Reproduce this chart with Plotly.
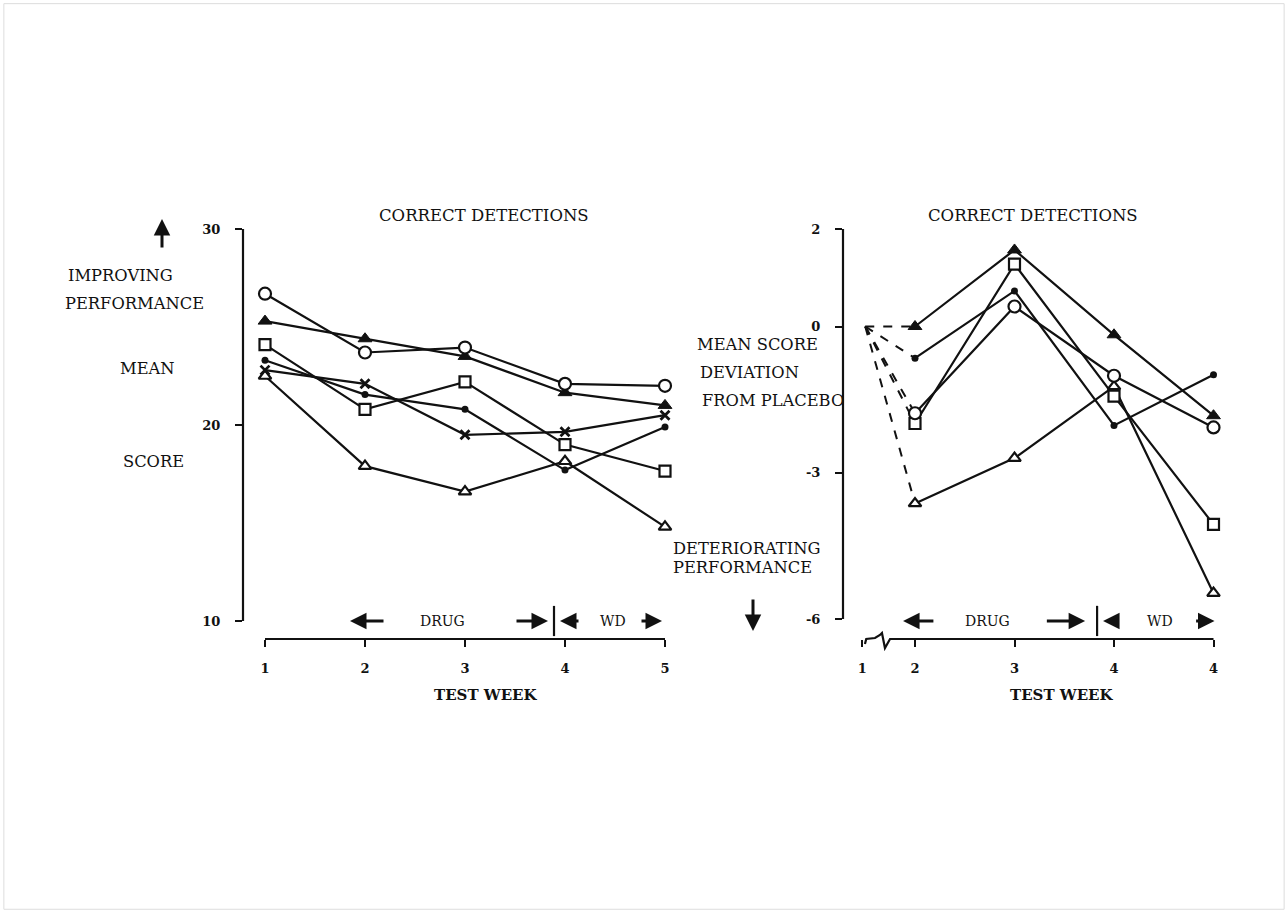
import plotly.graph_objects as go

# ---------------- data: left panel (mean score) ----------------
WEEKS_L = [1, 2, 3, 4, 5]
TICKTEXT_L = ["1", "2", "3", "4", "5"]
L_OPEN_CIRCLE = [26.7, 23.7, 23.95, 22.1, 22.0]
L_FILLED_TRI = [25.3, 24.4, 23.5, 21.65, 21.0]
L_OPEN_SQUARE = [24.1, 20.8, 22.2, 19.0, 17.65]
L_DOT = [23.3, 21.55, 20.8, 17.7, 19.9]
L_X = [22.8, 22.1, 19.5, 19.65, 20.5]
L_OPEN_TRI = [22.5, 17.9, 16.6, 18.15, 14.8]
YTICKS_L = [10, 20, 30]

# ---------------- data: right panel (deviation from placebo) ----------------
START_R = 1.5          # broken-axis start (week 1, placebo baseline)
START_VAL_R = 0.0
WEEKS_R = [2, 3, 4, 5]
TICKVALS_R = [1.47, 2, 3, 4, 5]
TICKTEXT_R = ["1", "2", "3", "4", "4"]
R_FILLED_TRI = [0.0, 1.57, -0.17, -1.83]
R_DOT = [-0.65, 0.73, -2.03, -0.99]
R_OPEN_CIRCLE = [-1.78, 0.41, -1.01, -2.07]
R_OPEN_SQUARE = [-1.99, 1.28, -1.43, -4.06]
R_OPEN_TRI = [-3.63, -2.70, -1.23, -5.47]
YTICKS_R = [2, 0, -3, -6]

INK = "#111111"
FONT = "DejaVu Serif"

MARKERS = {
    "open_circle": dict(symbol="circle", size=12, color="white", line=dict(color=INK, width=2.2)),
    "filled_tri": dict(symbol="triangle-up", size=12, color=INK, line=dict(color=INK, width=1)),
    "open_square": dict(symbol="square", size=11, color="white", line=dict(color=INK, width=2.2)),
    "dot": dict(symbol="circle", size=7, color=INK, line=dict(color=INK, width=0)),
    "x": dict(symbol="x-thin-open", size=9, color=INK, line=dict(color=INK, width=2.8)),
    "open_tri": dict(symbol="triangle-up", size=11, color="white", line=dict(color=INK, width=2.2)),
}

fig = go.Figure()

left_series = [
    ("dot", L_DOT), ("open_tri", L_OPEN_TRI), ("x", L_X),
    ("open_square", L_OPEN_SQUARE), ("filled_tri", L_FILLED_TRI), ("open_circle", L_OPEN_CIRCLE),
]
for key, vals in left_series:
    fig.add_trace(go.Scatter(
        x=WEEKS_L, y=vals, mode="lines+markers", xaxis="x", yaxis="y",
        line=dict(color=INK, width=2.2), marker=MARKERS[key], showlegend=False, cliponaxis=False))

right_series = [
    ("dot", R_DOT), ("open_tri", R_OPEN_TRI), ("open_square", R_OPEN_SQUARE),
    ("open_circle", R_OPEN_CIRCLE), ("filled_tri", R_FILLED_TRI),
]
for key, vals in right_series:
    fig.add_trace(go.Scatter(
        x=[START_R, WEEKS_R[0]], y=[START_VAL_R, vals[0]], mode="lines", xaxis="x2", yaxis="y2",
        line=dict(color=INK, width=2, dash="dash"), showlegend=False, hoverinfo="skip"))
for key, vals in right_series:
    fig.add_trace(go.Scatter(
        x=WEEKS_R, y=vals, mode="lines+markers", xaxis="x2", yaxis="y2",
        line=dict(color=INK, width=2.2), marker=MARKERS[key], showlegend=False, cliponaxis=False))

W, H = 1288, 912
def px(x):
    return x / W
def py(y):
    return 1 - y / H

ydom = [py(639), py(200)]
tickfont = dict(family=FONT, size=13, color=INK, weight="bold")

fig.update_layout(
    width=W, height=H, margin=dict(l=0, r=0, t=0, b=0), autosize=False,
    paper_bgcolor="white", plot_bgcolor="rgba(0,0,0,0)",
    xaxis=dict(domain=[px(243), px(673)], range=[0.78, 5.08], anchor="y",
               tickvals=WEEKS_L, ticktext=TICKTEXT_L, ticks="outside", ticklen=7, tickwidth=2,
               tickcolor=INK, showline=False, showgrid=False, zeroline=False,
               tickfont=tickfont, ticklabelstandoff=10),
    yaxis=dict(domain=ydom, range=[9.0816, 31.4796], anchor="x",
               tickvals=YTICKS_L, ticks="outside", ticklen=7, tickwidth=2, tickcolor=INK,
               showline=False, showgrid=False, zeroline=False,
               tickfont=tickfont, ticklabelstandoff=12),
    xaxis2=dict(domain=[px(843), px(1220)], range=[1.2764, 5.0653], anchor="y2",
                tickvals=TICKVALS_R, ticktext=TICKTEXT_R, ticks="outside", ticklen=7, tickwidth=2,
                tickcolor=INK, showline=False, showgrid=False, zeroline=False,
                tickfont=tickfont, ticklabelstandoff=10),
    yaxis2=dict(domain=ydom, range=[-6.4103, 2.5949], anchor="x2",
                tickvals=YTICKS_R, ticktext=["2", "0", "-3", "-6"], ticks="outside", ticklen=7,
                tickwidth=2, tickcolor=INK, showline=False, showgrid=False, zeroline=False,
                tickfont=tickfont, ticklabelstandoff=12),
)

shapes = []
# axis lines
shapes.append(dict(type="line", xref="x domain", x0=0, x1=0, yref="y", y0=10, y1=30,
                   line=dict(color=INK, width=2.2)))
shapes.append(dict(type="line", xref="x", x0=1, x1=5, yref="y domain", y0=0, y1=0,
                   line=dict(color=INK, width=2.2)))
shapes.append(dict(type="line", xref="x2 domain", x0=0, x1=0, yref="y2", y0=-6, y1=2,
                   line=dict(color=INK, width=2.2)))
# broken x-axis on right panel (x in data units, y in paper units so it is not clipped)
shapes.append(dict(type="path", xref="x2", yref="paper",
                   path=f"M 1.497 {py(644)} L 1.510 {py(639)} L 1.598 {py(638)} L 1.648 {py(635)} "
                        f"L 1.668 {py(633)} L 1.698 {py(648)} L 1.749 {py(639)} L 5 {py(639)}",
                   line=dict(color=INK, width=2.2)))
# drug / withdrawal separators
shapes.append(dict(type="line", xref="x", x0=3.89, x1=3.89, yref="y", y0=9.23, y1=10.77,
                   line=dict(color=INK, width=2.2)))
shapes.append(dict(type="line", xref="x2", x0=3.83, x1=3.83, yref="y2", y0=-6.35, y1=-5.73,
                   line=dict(color=INK, width=2.2)))
# faint page border
shapes.append(dict(type="rect", xref="paper", yref="paper", x0=0.003, x1=0.997, y0=0.003, y1=0.996,
                   line=dict(color="#dddddd", width=1)))
fig.update_layout(shapes=shapes)

ann = []
def text(x, y, s, size=16.3, bold=False, xanchor="center", xref="paper", yref="paper"):
    f = dict(family=FONT, size=size, color=INK)
    if bold:
        f["weight"] = "bold"
    ann.append(dict(x=x, y=y, xref=xref, yref=yref, text=s, showarrow=False, font=f,
                    xanchor=xanchor, yanchor="middle"))

def arrow(xa, head, tail, y, width=3, size=1.1):
    ann.append(dict(x=head, y=y, xref=xa, yref=xa.replace("x", "y"), ax=tail, ay=y,
                    axref=xa, ayref=xa.replace("x", "y"), text="", showarrow=True,
                    arrowhead=2, arrowsize=size, arrowwidth=width, arrowcolor=INK))

# titles
text(px(484), py(215), "CORRECT DETECTIONS", size=16.5)
text(px(1033), py(215), "CORRECT DETECTIONS", size=16.5)
# left labels
text(px(120), py(276), "IMPROVING")
text(px(134.5), py(304), "PERFORMANCE")
text(px(147), py(369), "MEAN")
text(px(153), py(461), "SCORE")
ann.append(dict(x=px(162), y=py(219), xref="paper", yref="paper", ax=0, ay=30, text="",
                showarrow=True, arrowhead=2, arrowsize=1.1, arrowwidth=3, arrowcolor=INK))
# right labels
text(px(695), py(344), "MEAN SCORE", xanchor="left")
text(px(698), py(372), "DEVIATION", xanchor="left")
text(px(700), py(400), "FROM PLACEBO", xanchor="left")
text(px(671), py(548), "DETERIORATING", xanchor="left")
text(px(671), py(567), "PERFORMANCE", xanchor="left")
ann.append(dict(x=px(753), y=py(631), xref="paper", yref="paper", ax=0, ay=-33, text="",
                showarrow=True, arrowhead=2, arrowsize=1.1, arrowwidth=3, arrowcolor=INK))
# x titles
text(px(486), py(695), "TEST WEEK", size=15, bold=True)
text(px(1062), py(695), "TEST WEEK", size=15, bold=True)

# drug / wd bands
text(2.77, 10.0, "DRUG", size=14, xref="x", yref="y")
text(4.48, 10.0, "WD", size=14, xref="x", yref="y")
arrow("x", 1.85, 2.2, 10.0)
arrow("x", 3.83, 3.5, 10.0)
arrow("x", 3.95, 4.15, 10.0)
arrow("x", 4.97, 4.75, 10.0)

text(2.73, -6.04, "DRUG", size=14, xref="x2", yref="y2")
text(4.46, -6.04, "WD", size=14, xref="x2", yref="y2")
arrow("x2", 1.88, 2.2, -6.04)
arrow("x2", 3.71, 3.31, -6.04)
arrow("x2", 3.89, 4.06, -6.04)
arrow("x2", 5.01, 4.81, -6.04)

fig.update_layout(annotations=ann)
fig.write_html("out.html")
